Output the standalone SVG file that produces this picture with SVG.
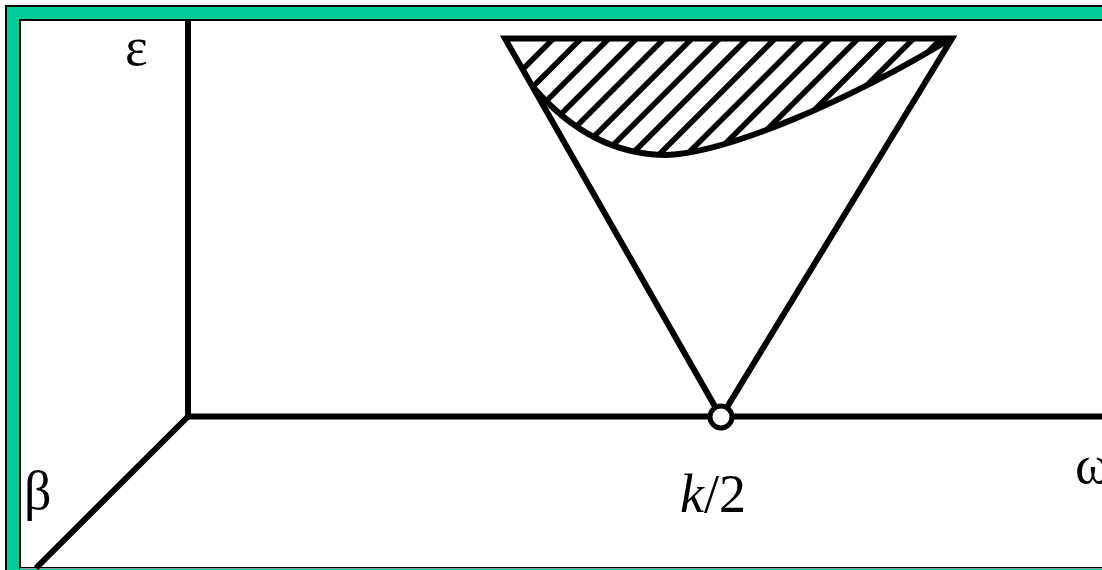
<svg xmlns="http://www.w3.org/2000/svg" width="1102" height="570" viewBox="0 0 1102 570">
<style>
.ax{stroke:#000;stroke-width:6;fill:none;stroke-linecap:butt}
.hatch{stroke:#000;stroke-width:5.5}
.lbl{font-family:"Liberation Serif",serif;font-size:54px;fill:#000}
</style>
<defs>
<clipPath id="hc"><path d="M505,38 L952,38 C850,100 730,152 667,155 C615,155 570,130 533,87 Z"/></clipPath>
</defs>
<g id="frame">
<rect x="6" y="6" width="1200" height="600" fill="#00CC99" stroke="#000" stroke-width="2"/>
<rect x="20" y="20" width="1200" height="548" fill="#fff" stroke="#000" stroke-width="2"/>
<line x1="20" y1="568.5" x2="1102" y2="568.5" stroke="#999" stroke-width="1"/>
</g>
<g id="connectors">
<line class="ax" x1="188" y1="20" x2="188" y2="419"/>
<line class="ax" x1="185" y1="416.5" x2="1102" y2="416.5"/>
<line class="ax" x1="188" y1="416.5" x2="36" y2="568"/>
</g>
<g id="region">
<g clip-path="url(#hc)">
<g class="hatch">
<line x1="572" y1="20" x2="372" y2="220"/>
<line x1="599.7" y1="20" x2="399.7" y2="220"/>
<line x1="627.4" y1="20" x2="427.4" y2="220"/>
<line x1="655.1" y1="20" x2="455.1" y2="220"/>
<line x1="682.8" y1="20" x2="482.8" y2="220"/>
<line x1="710.5" y1="20" x2="510.5" y2="220"/>
<line x1="738.2" y1="20" x2="538.2" y2="220"/>
<line x1="765.9" y1="20" x2="565.9" y2="220"/>
<line x1="793.6" y1="20" x2="593.6" y2="220"/>
<line x1="821.3" y1="20" x2="621.3" y2="220"/>
<line x1="849" y1="20" x2="649" y2="220"/>
<line x1="876.7" y1="20" x2="676.7" y2="220"/>
<line x1="904.4" y1="20" x2="704.4" y2="220"/>
<line x1="932.1" y1="20" x2="732.1" y2="220"/>
<line x1="959.8" y1="20" x2="759.8" y2="220"/>
<line x1="987.5" y1="20" x2="787.5" y2="220"/>
</g>
</g>
<path class="ax" d="M952,38 C850,100 730,152 667,155 C615,155 570,130 533,87" stroke-width="5"/>
</g>
<g id="cone">
<path class="ax" d="M721,417 L505,38.5 L952,38.5 Z" stroke-linejoin="miter"/>
<circle cx="721" cy="417" r="11" fill="#fff" stroke="#000" stroke-width="5"/>
</g>
<g id="labels">
<text class="lbl" x="125" y="65" font-size="56">ε</text>
<text class="lbl" x="24" y="509" font-size="56">β</text>
<text class="lbl" x="1075" y="483" font-size="56">ω</text>
<text class="lbl" x="680" y="512" font-size="56"><tspan font-style="italic">k</tspan>/2</text>
</g>
</svg>
